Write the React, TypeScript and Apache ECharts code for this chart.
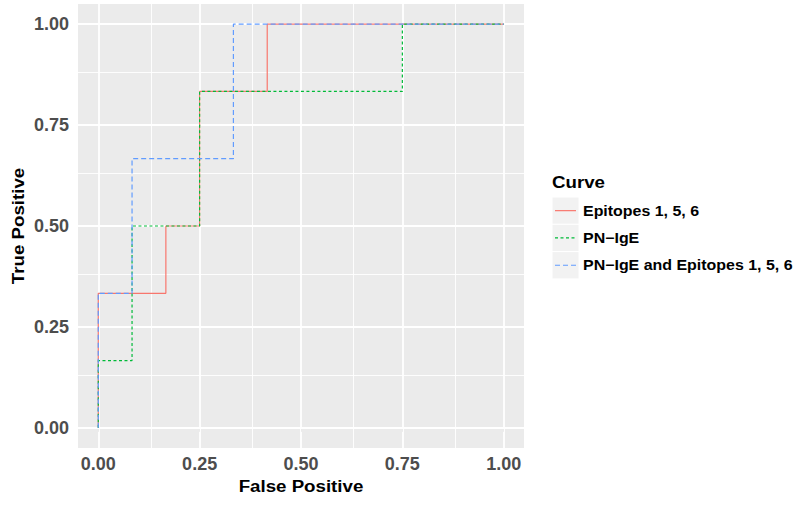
import React, { useEffect, useRef } from "react";
import * as echarts from "echarts";

const tickValues = [0, 0.25, 0.5, 0.75, 1];
const minorValues = [0.125, 0.375, 0.625, 0.875];
const tickLabels = ["0.00", "0.25", "0.50", "0.75", "1.00"];

const curveNames = ["Epitopes 1, 5, 6", "PN\u2212IgE", "PN\u2212IgE and Epitopes 1, 5, 6"];
const curveColors = ["#F8766D", "#00BA38", "#619CFF"];

const epiFpr = [0, 0, 0.0833, 0.1667, 0.1667, 0.25, 0.25, 0.4167, 0.4167, 1];
const epiTpr = [0, 0.3333, 0.3333, 0.3333, 0.5, 0.5, 0.8333, 0.8333, 1, 1];

const pnFpr = [0, 0, 0.0833, 0.0833, 0.25, 0.25, 0.75, 0.75, 1];
const pnTpr = [0, 0.1667, 0.1667, 0.5, 0.5, 0.8333, 0.8333, 1, 1];

const bothFpr = [0, 0, 0.0833, 0.0833, 0.3333, 0.3333, 1];
const bothTpr = [0, 0.3333, 0.3333, 0.6667, 0.6667, 1, 1];

const FONT = "'Liberation Sans', Arial, sans-serif";

export default function App() {
  const ref = useRef<HTMLDivElement>(null);
  useEffect(() => {
    if (!ref.current) return;
    const chart = echarts.init(ref.current, undefined, { renderer: "svg" });
    const zip = (a: number[], b: number[]) => a.map((v, i) => [v, b[i]]);
    const dashes = [null, [3, 2.5], [5, 3]];
    const curves = [zip(epiFpr, epiTpr), zip(pnFpr, pnTpr), zip(bothFpr, bothTpr)];

    const gridLines: any[] = [];
    minorValues.forEach((v) => {
      gridLines.push({ xAxis: v, lineStyle: { color: "#FFFFFF", width: 0.9, type: "solid" } });
      gridLines.push({ yAxis: v, lineStyle: { color: "#FFFFFF", width: 0.9, type: "solid" } });
    });
    tickValues.forEach((v) => {
      gridLines.push({ xAxis: v, lineStyle: { color: "#FFFFFF", width: 1.8, type: "solid" } });
      gridLines.push({ yAxis: v, lineStyle: { color: "#FFFFFF", width: 1.8, type: "solid" } });
    });

    const gl = { left: 78, top: 4, width: 446, height: 444 };
    const legX = 552;
    const keyTop = 197;
    const keyH = 27.3;
    const SX = 1.1;
    const graphics: any[] = [
      {
        type: "text",
        x: gl.left + gl.width / 2,
        y: 486,
        scaleX: SX,
        style: { text: "False Positive", font: `bold 17px ${FONT}`, fill: "#000", textAlign: "center", textVerticalAlign: "middle" },
      },
      {
        type: "text",
        x: 18,
        y: gl.top + gl.height / 2,
        rotation: Math.PI / 2,
        scaleX: SX,
        style: { text: "True Positive", font: `bold 17px ${FONT}`, fill: "#000", textAlign: "center", textVerticalAlign: "middle" },
      },
      {
        type: "text",
        x: legX,
        y: 182,
        scaleX: SX,
        style: { text: "Curve", font: `bold 17px ${FONT}`, fill: "#000", textAlign: "left", textVerticalAlign: "middle" },
      },
    ];
    curveNames.forEach((name, i) => {
      const cy = keyTop + keyH * i + keyH / 2;
      graphics.push({
        type: "rect",
        shape: { x: legX, y: keyTop + keyH * i, width: 27, height: keyH },
        style: { fill: "#F2F2F2", stroke: "#FFFFFF", lineWidth: 1 },
      });
      graphics.push({
        type: "line",
        shape: { x1: legX + 3, y1: cy, x2: legX + 24, y2: cy },
        style: { stroke: curveColors[i], lineWidth: 1.2, lineDash: dashes[i] || undefined },
      });
      graphics.push({
        type: "text",
        x: 583,
        y: cy,
        scaleX: SX,
        style: { text: name, font: `bold 14.5px ${FONT}`, fill: "#000", textAlign: "left", textVerticalAlign: "middle" },
      });
    });

    const axisCommon = {
      type: "value",
      min: -0.05,
      max: 1.05,
      axisLine: { show: false },
      splitLine: { show: false },
    };
    const labelCommon = {
      customValues: tickValues,
      formatter: (v: number) => tickLabels[tickValues.indexOf(v)] ?? v.toFixed(2),
      color: "#4D4D4D",
      fontWeight: "bold",
      fontSize: 18,
      fontFamily: FONT,
    };

    chart.setOption({
      animation: false,
      backgroundColor: "#FFFFFF",
      grid: { ...gl, backgroundColor: "#EBEBEB", show: true, borderWidth: 0, containLabel: false },
      xAxis: {
        ...axisCommon,
        axisTick: { show: true, customValues: tickValues, length: 4, lineStyle: { color: "#333333", width: 1 } },
        axisLabel: { ...labelCommon, margin: 7 },
      },
      yAxis: {
        ...axisCommon,
        axisTick: { show: true, customValues: tickValues, length: 4, lineStyle: { color: "#333333", width: 1 } },
        axisLabel: { ...labelCommon, margin: 9 },
      },
      graphic: graphics,
      series: [
        {
          type: "line",
          name: "grid",
          z: 1,
          data: [[0, 0]],
          showSymbol: false,
          symbol: "none",
          lineStyle: { opacity: 0 },
          silent: true,
          markLine: {
            silent: true,
            z: 1,
            symbol: ["none", "none"],
            label: { show: false },
            animation: false,
            data: gridLines,
          },
        },
        ...curves.map((d, i) => ({
          type: "line",
          name: curveNames[i],
          z: 10 + i,
          data: d,
          showSymbol: false,
          symbol: "none",
          silent: true,
          lineStyle: { color: curveColors[i], width: 1.2, type: dashes[i] || "solid" },
        })),
      ],
    });
    return () => chart.dispose();
  }, []);
  return <div ref={ref} style={{ position: "absolute", left: 0, top: 0, width: 800, height: 511 }} />;
}
